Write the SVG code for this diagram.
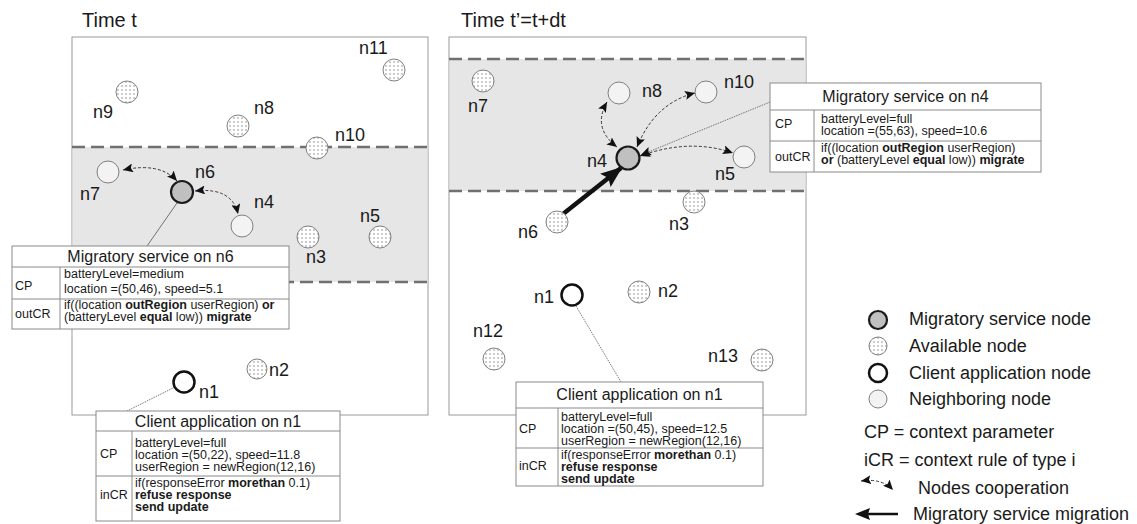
<svg xmlns="http://www.w3.org/2000/svg" width="1137" height="524" viewBox="0 0 1137 524">
  <style>
    text { font-family: "Liberation Sans", Arial, sans-serif; fill: #1a1a1a; }
    .title { font-size: 20px; }
    .lbl { font-size: 18px; }
    .leg { font-size: 18px; }
    .hdr { font-size: 16px; text-anchor: middle; }
    .cell { font-size: 12.5px; }
    .b { font-weight: bold; }
    .panel { fill: #fff; stroke: #9a9a9a; stroke-width: 1; }
    .band { fill: #e6e6e6; stroke: none; }
    .border { stroke: #707070; stroke-width: 2.5; stroke-dasharray: 13 6; fill: none; }
    .avail { fill: url(#dots); stroke: #808080; stroke-width: 1; }
    .neigh { fill: #f3f3f3; stroke: #808080; stroke-width: 1; }
    .migr { fill: #c0c0c0; stroke: #1a1a1a; stroke-width: 2.2; }
    .client { fill: #fff; stroke: #111; stroke-width: 2.5; }
    .tbl { fill: #fff; stroke: #8a8a8a; stroke-width: 1; }
    .grid { stroke: #8a8a8a; stroke-width: 1; fill: none; }
    .coop { fill: none; stroke: #333; stroke-width: 1; stroke-dasharray: 3 2; marker-start: url(#tip); marker-end: url(#tip); }
    .lead { fill: none; stroke: #555; stroke-width: 0.8; }
    .dot { stroke-dasharray: 1.5 1; }
    .move { fill: none; stroke: #111; stroke-width: 4.5; marker-end: url(#bigtip); }
  </style>
  <defs>
    <pattern id="dots" patternUnits="userSpaceOnUse" width="4" height="4">
      <rect width="4" height="4" fill="#fff"/>
      <circle cx="2" cy="2" r="0.65" fill="#707070"/>
    </pattern>
    <marker id="tip" markerUnits="userSpaceOnUse" markerWidth="10" markerHeight="9" viewBox="0 0 10 9" refX="10" refY="4.5" orient="auto-start-reverse">
      <path d="M0,0 L10,4.5 L0,9 L2,4.5 Z" fill="#111"/>
    </marker>
    <marker id="bigtip" markerUnits="userSpaceOnUse" markerWidth="22" markerHeight="17" viewBox="0 0 22 17" refX="20" refY="8.5" orient="auto">
      <path d="M0,0 L22,8.5 L0,17 L4,8.5 Z" fill="#111"/>
    </marker>
  </defs>

  <!-- Panel at time t -->
  <g id="panel-t">
    <text class="title" x="82" y="27">Time t</text>
    <rect class="panel" x="72" y="37" width="356" height="378"/>
    <rect class="band" x="72.5" y="147" width="355" height="135"/>
    <line class="border" x1="72" y1="147" x2="428" y2="147"/>
    <line class="border" x1="72" y1="282" x2="428" y2="282"/>
  </g>

  <!-- Panel at time t' -->
  <g id="panel-t2">
    <text class="title" x="461" y="27">Time t’=t+dt</text>
    <rect class="panel" x="449" y="37" width="357" height="378"/>
    <rect class="band" x="449.5" y="59" width="356" height="132"/>
    <line class="border" x1="449" y1="59" x2="806" y2="59"/>
    <line class="border" x1="449" y1="191" x2="806" y2="191"/>
  </g>

  <!-- Connectors -->
  <g id="connectors">
    <!-- time t -->
    <path class="coop" d="M123,170 Q160,162 177,181"/>
    <path class="coop" d="M195,191 Q232,187 238,214"/>
    <line class="lead" x1="177" y1="203" x2="147" y2="246"/>
    <line class="lead dot" x1="175" y1="387" x2="127" y2="411"/>
    <!-- time t' -->
    <path class="coop" d="M607,102 Q592,128 617,147"/>
    <path class="coop" d="M637,147 Q655,103 695,93"/>
    <path class="coop" d="M640,156 Q690,138 733,153"/>
    <line class="lead dot" x1="770" y1="102" x2="641" y2="155" marker-end="url(#tip)"/>
    <line class="move" x1="563" y1="214" x2="621" y2="168"/>
    <line class="lead dot" x1="576" y1="306" x2="621" y2="382"/>
  </g>

  <!-- Nodes at time t -->
  <g id="t-n11"><circle class="avail" cx="394" cy="70" r="11"/><text class="lbl" x="359" y="54">n11</text></g>
  <g id="t-n9"><circle class="avail" cx="127" cy="92" r="11"/><text class="lbl" x="93" y="118">n9</text></g>
  <g id="t-n8"><circle class="avail" cx="238" cy="126" r="11"/><text class="lbl" x="254" y="114">n8</text></g>
  <g id="t-n10"><circle class="avail" cx="317" cy="148" r="11"/><text class="lbl" x="335" y="141">n10</text></g>
  <g id="t-n7"><circle class="neigh" cx="108" cy="172" r="11"/><text class="lbl" x="80" y="200">n7</text></g>
  <g id="t-n6"><circle class="migr" cx="182" cy="192" r="11"/><text class="lbl" x="195" y="178">n6</text></g>
  <g id="t-n4"><circle class="neigh" cx="242" cy="226" r="11"/><text class="lbl" x="254" y="208">n4</text></g>
  <g id="t-n5"><circle class="avail" cx="380" cy="237" r="11"/><text class="lbl" x="360" y="222">n5</text></g>
  <g id="t-n3"><circle class="avail" cx="308" cy="237" r="11"/><text class="lbl" x="306" y="263">n3</text></g>
  <g id="t-n2"><circle class="avail" cx="257" cy="369" r="10"/><text class="lbl" x="269" y="376">n2</text></g>
  <g id="t-n1"><circle class="client" cx="184" cy="382" r="10.5"/><text class="lbl" x="199" y="398">n1</text></g>

  <!-- Nodes at time t' -->
  <g id="t2-n7"><circle class="avail" cx="483" cy="81" r="11"/><text class="lbl" x="468" y="112">n7</text></g>
  <g id="t2-n8"><circle class="neigh" cx="619" cy="93" r="11"/><text class="lbl" x="642" y="97">n8</text></g>
  <g id="t2-n10"><circle class="neigh" cx="706" cy="92" r="11"/><text class="lbl" x="724" y="88">n10</text></g>
  <g id="t2-n4"><circle class="migr" cx="628" cy="158" r="11.5"/><text class="lbl" x="587" y="167">n4</text></g>
  <g id="t2-n5"><circle class="neigh" cx="744" cy="157" r="11"/><text class="lbl" x="715" y="180">n5</text></g>
  <g id="t2-n3"><circle class="avail" cx="694" cy="202" r="11"/><text class="lbl" x="669" y="230">n3</text></g>
  <g id="t2-n6"><circle class="avail" cx="557" cy="222" r="11"/><text class="lbl" x="518" y="238">n6</text></g>
  <g id="t2-n1"><circle class="client" cx="572" cy="295" r="10.5"/><text class="lbl" x="534" y="303">n1</text></g>
  <g id="t2-n2"><circle class="avail" cx="639" cy="292" r="11"/><text class="lbl" x="658" y="297">n2</text></g>
  <g id="t2-n12"><circle class="avail" cx="494" cy="359" r="11"/><text class="lbl" x="473" y="337">n12</text></g>
  <g id="t2-n13"><circle class="avail" cx="762" cy="360" r="11"/><text class="lbl" x="708" y="362">n13</text></g>

  <!-- Context tables -->
  <g id="tbl-service-n6">
    <rect class="tbl" x="12" y="246" width="277" height="83"/>
    <path class="grid" d="M12,267 H289 M12,299 H289 M60,267 V329"/>
    <text class="hdr" x="150.5" y="262">Migratory service on n6</text>
    <text class="cell" x="15" y="290">CP</text>
    <text class="cell" x="64" y="278">batteryLevel=medium</text>
    <text class="cell" x="64" y="293">location =(50,46), speed=5.1</text>
    <text class="cell" x="15" y="318">outCR</text>
    <text class="cell" x="64" y="309">if((location <tspan class="b">outRegion</tspan> userRegion) <tspan class="b">or</tspan></text>
    <text class="cell" x="64" y="321">(batteryLevel <tspan class="b">equal</tspan> low)) <tspan class="b">migrate</tspan></text>
  </g>

  <g id="tbl-client-t">
    <rect class="tbl" x="96" y="411" width="244" height="110"/>
    <path class="grid" d="M96,431 H340 M96,476 H340 M132,431 V521"/>
    <text class="hdr" x="218" y="427">Client application on n1</text>
    <text class="cell" x="100" y="458">CP</text>
    <text class="cell" x="135" y="447">batteryLevel=full</text>
    <text class="cell" x="135" y="459">location =(50,22), speed=11.8</text>
    <text class="cell" x="135" y="471">userRegion = newRegion(12,16)</text>
    <text class="cell" x="100" y="499">inCR</text>
    <text class="cell" x="135" y="487">if(responseError <tspan class="b">morethan</tspan> 0.1)</text>
    <text class="cell b" x="135" y="499">refuse response</text>
    <text class="cell b" x="135" y="511">send update</text>
  </g>

  <g id="tbl-service-n4">
    <rect class="tbl" x="770" y="83" width="271" height="89"/>
    <path class="grid" d="M770,110 H1041 M770,141 H1041 M814,110 V172"/>
    <text class="hdr" x="905.5" y="102">Migratory service on n4</text>
    <text class="cell" x="775" y="128">CP</text>
    <text class="cell" x="821" y="123">batteryLevel=full</text>
    <text class="cell" x="821" y="135">location =(55,63), speed=10.6</text>
    <text class="cell" x="775" y="161">outCR</text>
    <text class="cell" x="821" y="152">if((location <tspan class="b">outRegion</tspan> userRegion)</text>
    <text class="cell" x="821" y="164"><tspan class="b">or</tspan> (batteryLevel <tspan class="b">equal</tspan> low)) <tspan class="b">migrate</tspan></text>
  </g>

  <g id="tbl-client-t2">
    <rect class="tbl" x="516" y="382" width="247" height="104"/>
    <path class="grid" d="M516,408 H763 M516,448 H763 M558,408 V486"/>
    <text class="hdr" x="639.5" y="400">Client application on n1</text>
    <text class="cell" x="519" y="433">CP</text>
    <text class="cell" x="561" y="421">batteryLevel=full</text>
    <text class="cell" x="561" y="433">location =(50,45), speed=12.5</text>
    <text class="cell" x="561" y="445">userRegion = newRegion(12,16)</text>
    <text class="cell" x="519" y="470">inCR</text>
    <text class="cell" x="561" y="459">if(responseError <tspan class="b">morethan</tspan> 0.1)</text>
    <text class="cell b" x="561" y="471">refuse response</text>
    <text class="cell b" x="561" y="483">send update</text>
  </g>

  <!-- Legend -->
  <g id="legend">
    <circle class="migr" cx="878" cy="320" r="9"/>
    <text class="leg" x="909" y="325">Migratory service node</text>
    <circle class="avail" cx="878" cy="346" r="9"/>
    <text class="leg" x="909" y="352">Available node</text>
    <circle class="client" cx="878" cy="373" r="9"/>
    <text class="leg" x="909" y="379">Client application node</text>
    <circle class="neigh" cx="878" cy="399" r="9"/>
    <text class="leg" x="909" y="405">Neighboring node</text>
    <text class="leg" x="864" y="438">CP = context parameter</text>
    <text class="leg" x="864" y="466">iCR = context rule of type i</text>
    <path class="coop" d="M861,481 Q882,478 893,490"/>
    <text class="leg" x="918" y="494">Nodes cooperation</text>
    <path d="M855,514 L870,508 L868,514 L870,520 Z" fill="#111"/>
    <line x1="866" y1="514" x2="898" y2="514" stroke="#111" stroke-width="2.5"/>
    <text class="leg" x="913" y="520">Migratory service migration</text>
  </g>
</svg>
